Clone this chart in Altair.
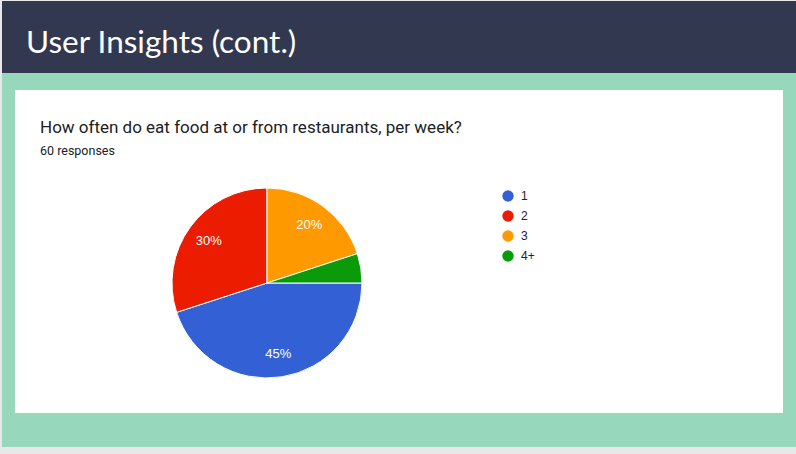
import math
import altair as alt
import pandas as pd

# ---- data ----
categories = ["1", "2", "3", "4+"]
shares = [45, 30, 20, 5]
slice_labels = ["45%", "30%", "20%", ""]
colors = ["#3361d5", "#ec1c00", "#ff9900", "#0a9a0a"]

header_text = ["User Insights (cont.)"]
question = ["How often do eat food at or from restaurants, per week?"]
responses = ["60 responses"]

df = pd.DataFrame({
    "cat": categories,
    "share": shares,
    "label": slice_labels,
    "idx": list(range(len(categories))),
})
one = pd.DataFrame({"k": [0]})

W, H = 796, 454
CX, CY, R = 267, 283, 95

def box(color, x1, x2, y1, y2):
    return alt.Chart(one).mark_rect(color=color).encode(
        x=alt.value(x1), x2=alt.value(x2), y=alt.value(y1), y2=alt.value(y2))

page = box("#e8e8e8", 0, W, 0, H)
mint = box("#97d8bd", 2, W, 73, 447)
header = box("#333851", 2, W, 1, 73)
card = box("#ffffff", 15, 783, 90, 413)

head_txt = alt.Chart(pd.DataFrame({"t": header_text})).mark_text(
    font="Lato", fontSize=31.5, color="#ffffff", align="left", baseline="alphabetic"
).encode(x=alt.value(26), y=alt.value(53), text="t:N")

q_txt = alt.Chart(pd.DataFrame({"t": question})).mark_text(
    font="Roboto", fontSize=17, color="#202124", align="left", baseline="alphabetic"
).encode(x=alt.value(40), y=alt.value(133), text="t:N")

r_txt = alt.Chart(pd.DataFrame({"t": responses})).mark_text(
    font="Roboto", fontSize=12.5, color="#202124", align="left", baseline="alphabetic"
).encode(x=alt.value(40), y=alt.value(155), text="t:N")

theta = alt.Theta("share:Q", stack=True,
                  scale=alt.Scale(range=[math.pi / 2, math.pi / 2 + 2 * math.pi]))

pie = alt.Chart(df).mark_arc(outerRadius=R, stroke="#ffffff", strokeWidth=1).encode(
    theta=theta,
    color=alt.Color("cat:N", scale=alt.Scale(domain=categories, range=colors),
                    legend=alt.Legend(orient="none", legendX=502, legendY=190, title=None,
                                      symbolType="circle", symbolSize=130,
                                      symbolStrokeWidth=0, symbolOpacity=1,
                                      labelFont="Arial", labelFontSize=12,
                                      labelColor="#222222", rowPadding=8,
                                      labelOffset=7)),
    order=alt.Order("idx:Q"),
    x=alt.value(CX), y=alt.value(CY),
)

pie_txt = alt.Chart(df).mark_text(radius=72, font="Arial", fontSize=13, color="#ffffff").encode(
    theta=theta,
    text="label:N",
    order=alt.Order("idx:Q"),
    x=alt.value(CX), y=alt.value(CY),
)

chart = alt.layer(page, mint, header, card, head_txt, q_txt, r_txt, pie, pie_txt).properties(
    width=W, height=H, padding=0, autosize=alt.AutoSizeParams(type="none")
).configure_view(stroke=None)

chart.save("out.html", embed_options={"renderer": "svg", "actions": False})
